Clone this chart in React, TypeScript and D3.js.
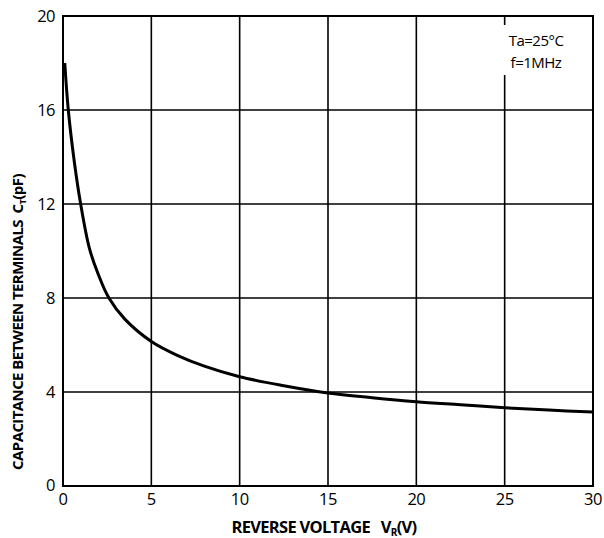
import React from "react";
import * as d3 from "d3";

const voltage = [0.1, 0.3, 0.64, 1.0, 1.5, 2.0, 2.6, 3.5, 5, 6.5, 8, 10, 12.5, 15, 17.5, 20, 22.5, 25, 27.5, 30];
const capacitance = [18, 16, 13.8, 12, 10.1, 9.0, 8.0, 7.1, 6.15, 5.55, 5.1, 4.65, 4.27, 3.96, 3.76, 3.59, 3.46, 3.33, 3.23, 3.15];
const xTicks = [0, 5, 10, 15, 20, 25, 30];
const yTicks = [0, 4, 8, 12, 16, 20];

const W = 604, H = 538;
const left = 63, right = 593, top = 16, bottom = 486;

export default function App() {
  const x = d3.scaleLinear().domain([0, 30]).range([left, right]);
  const y = d3.scaleLinear().domain([0, 20]).range([bottom, top]);
  const pts = voltage.map((v, i) => [v, capacitance[i]] as [number, number]);
  const line = d3.line<[number, number]>().x(d => x(d[0])).y(d => y(d[1])).curve(d3.curveCatmullRom.alpha(0.5));
  const font = "'Open Sans', 'Noto Sans', sans-serif";
  return (
    <svg width={W} height={H} style={{ position: "absolute", left: 0, top: 0, background: "#fff" }}>
      <rect x={0} y={0} width={W} height={H} fill="#fff" />
      {xTicks.map(t => (
        <line key={"gx" + t} x1={x(t)} x2={x(t)} y1={top} y2={bottom} stroke="#000" strokeWidth={1.6} />
      ))}
      {yTicks.map(t => (
        <line key={"gy" + t} x1={left} x2={right} y1={y(t)} y2={y(t)} stroke="#000" strokeWidth={1.6} />
      ))}
      <rect x={left} y={top} width={right - left} height={bottom - top} fill="none" stroke="#000" strokeWidth={2} />
      <rect x={498} y={25} width={72} height={50} fill="#fff" />
      <text x={536} y={46} textAnchor="middle" fontFamily={font} fontSize={15} letterSpacing={-0.5} fill="#000">Ta=25°C</text>
      <text x={536} y={68} textAnchor="middle" fontFamily={font} fontSize={15} letterSpacing={-0.5} fill="#000">f=1MHz</text>
      <path d={line(pts) || ""} fill="none" stroke="#000" strokeWidth={3} />
      {xTicks.map(t => (
        <text key={"tx" + t} x={x(t)} y={505} textAnchor="middle" fontFamily={font} fontSize={16.5} letterSpacing={-0.5} fill="#000">{t}</text>
      ))}
      {yTicks.map(t => (
        <text key={"ty" + t} x={55} y={y(t) + (t === 0 ? 5 : 6)} textAnchor="end" fontFamily={font} fontSize={16.5} letterSpacing={-0.5} fill="#000">{t}</text>
      ))}
      <text x={324} y={533} textAnchor="middle" fontFamily={font} fontSize={16.5} fontWeight="bold" letterSpacing={-0.7} fill="#000">
        REVERSE VOLTAGE{"\u00a0\u00a0\u00a0"}V<tspan fontSize={10} dy={3}>R</tspan><tspan dy={-3}>(V)</tspan>
      </text>
      <text transform={`translate(23,322) rotate(-90)`} textAnchor="middle" fontFamily={font} fontSize={15} fontWeight="bold" letterSpacing={-0.6} fill="#000">
        CAPACITANCE BETWEEN TERMINALS{"\u00a0\u00a0"}C<tspan fontSize={9.5} dy={3}>T</tspan><tspan dy={-3}>(pF)</tspan>
      </text>
    </svg>
  );
}
